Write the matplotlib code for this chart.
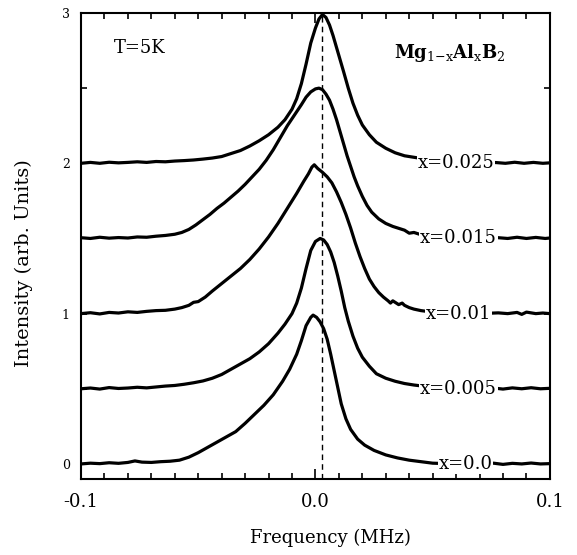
import numpy as np
import matplotlib
matplotlib.use("Agg")
import matplotlib.pyplot as plt
import matplotlib.ticker as ticker

# Spectra (already offset by 0.5 per sample)
freq_x0 = [-0.1, -0.096, -0.092, -0.088, -0.084, -0.080, -0.077, -0.074, -0.070,
           -0.066, -0.062, -0.058, -0.054, -0.050, -0.046, -0.042, -0.038, -0.034,
           -0.030, -0.026, -0.022, -0.018, -0.014, -0.011, -0.008, -0.006, -0.004,
           -0.002, -0.001, 0.0005, 0.002, 0.0035, 0.005, 0.0065, 0.008, 0.0095,
           0.011, 0.013, 0.015, 0.018, 0.021, 0.025, 0.030, 0.035, 0.040, 0.045,
           0.05, 0.06, 0.07, 0.076, 0.080, 0.084, 0.088, 0.092, 0.096, 0.1]
int_x0 = [0.000, 0.005, 0.002, 0.008, 0.004, 0.010, 0.020, 0.012, 0.010,
          0.015, 0.018, 0.025, 0.045, 0.075, 0.110, 0.145, 0.180, 0.215,
          0.270, 0.330, 0.390, 0.460, 0.550, 0.630, 0.730, 0.820, 0.920,
          0.975, 0.990, 0.975, 0.945, 0.900, 0.830, 0.730, 0.620, 0.510,
          0.400, 0.300, 0.230, 0.165, 0.125, 0.090, 0.060, 0.040, 0.025, 0.015,
          0.005, 0.000, 0.000, 0.005, -0.003, 0.004, 0.000, 0.006, 0.000, 0.002]

freq_x005 = [-0.1, -0.096, -0.092, -0.088, -0.084, -0.080, -0.076, -0.072, -0.068,
             -0.064, -0.060, -0.056, -0.052, -0.048, -0.044, -0.040, -0.036,
             -0.032, -0.028, -0.024, -0.020, -0.016, -0.013, -0.010, -0.008,
             -0.006, -0.004, -0.002, 0.0, 0.002, 0.0035, 0.005, 0.0065, 0.008,
             0.0095, 0.011, 0.0125, 0.014, 0.016, 0.018, 0.020, 0.023, 0.026,
             0.030, 0.034, 0.038, 0.042, 0.05, 0.06, 0.07, 0.076, 0.080, 0.084,
             0.088, 0.092, 0.096, 0.1]
int_x005 = [0.500, 0.505, 0.498, 0.508, 0.502, 0.505, 0.510, 0.506, 0.512,
            0.518, 0.522, 0.530, 0.540, 0.552, 0.570, 0.595, 0.630,
            0.665, 0.700, 0.745, 0.800, 0.870, 0.930, 1.000, 1.070,
            1.170, 1.300, 1.420, 1.480, 1.500, 1.490, 1.460, 1.410, 1.340,
            1.250, 1.150, 1.040, 0.950, 0.850, 0.770, 0.710, 0.650, 0.600,
            0.570, 0.550, 0.535, 0.525, 0.510, 0.505, 0.500, 0.505, 0.498, 0.506,
            0.500, 0.507, 0.500, 0.503]

freq_x01 = [-0.1, -0.096, -0.092, -0.088, -0.084, -0.080, -0.076, -0.072, -0.068,
            -0.064, -0.060, -0.057, -0.054, -0.052, -0.050, -0.047, -0.044, -0.040,
            -0.036, -0.032, -0.028, -0.024, -0.020, -0.016, -0.012, -0.008, -0.005,
            -0.003, -0.0015, -0.0005, 0.001, 0.003, 0.005, 0.007, 0.009, 0.011,
            0.013, 0.015, 0.017, 0.019, 0.021, 0.023, 0.025, 0.027, 0.029, 0.031,
            0.032, 0.033, 0.034, 0.0355, 0.037, 0.038, 0.040, 0.042, 0.045, 0.05,
            0.06, 0.07, 0.078, 0.082, 0.086, 0.088, 0.090, 0.094, 0.097, 0.1]
int_x01 = [1.000, 1.006, 0.998, 1.008, 1.004, 1.012, 1.008, 1.015, 1.020,
           1.022, 1.030, 1.040, 1.055, 1.075, 1.080, 1.110, 1.150, 1.200,
           1.250, 1.300, 1.360, 1.430, 1.510, 1.600, 1.700, 1.800, 1.880,
           1.930, 1.975, 1.990, 1.965, 1.940, 1.910, 1.870, 1.810, 1.740,
           1.660, 1.570, 1.470, 1.380, 1.300, 1.230, 1.180, 1.140, 1.110, 1.085,
           1.070, 1.085, 1.075, 1.060, 1.070, 1.055, 1.040, 1.030, 1.020, 1.010,
           1.005, 1.000, 1.005, 1.000, 1.008, 0.995, 1.010, 1.000, 1.004, 1.000]

freq_x015 = [-0.1, -0.096, -0.092, -0.088, -0.084, -0.080, -0.076, -0.072, -0.068,
             -0.064, -0.060, -0.057, -0.054, -0.051, -0.048, -0.045, -0.042,
             -0.039, -0.036, -0.033, -0.030, -0.027, -0.024, -0.021, -0.018,
             -0.015, -0.012, -0.009, -0.006, -0.004, -0.002, 0.0, 0.0015, 0.003,
             0.0045, 0.006, 0.0075, 0.009, 0.0105, 0.012, 0.0135, 0.015, 0.0165,
             0.018, 0.020, 0.022, 0.024, 0.027, 0.030, 0.033, 0.036, 0.038, 0.040,
             0.042, 0.045, 0.05, 0.06, 0.07, 0.078, 0.082, 0.086, 0.090, 0.094,
             0.098, 0.1]
int_x015 = [1.505, 1.500, 1.508, 1.502, 1.506, 1.503, 1.510, 1.508, 1.515,
            1.520, 1.528, 1.540, 1.560, 1.590, 1.625, 1.660, 1.700,
            1.735, 1.775, 1.815, 1.860, 1.910, 1.960, 2.020, 2.090,
            2.170, 2.250, 2.320, 2.390, 2.440, 2.475, 2.495, 2.500, 2.490,
            2.460, 2.420, 2.360, 2.290, 2.210, 2.130, 2.050, 1.980, 1.910,
            1.850, 1.780, 1.720, 1.675, 1.630, 1.600, 1.580, 1.565, 1.555, 1.535,
            1.540, 1.525, 1.520, 1.510, 1.505, 1.505, 1.500, 1.508, 1.500, 1.507,
            1.500, 1.503]

freq_x025 = [-0.1, -0.096, -0.092, -0.088, -0.084, -0.080, -0.076, -0.072, -0.068,
             -0.064, -0.060, -0.056, -0.052, -0.048, -0.044, -0.040, -0.036,
             -0.032, -0.028, -0.024, -0.020, -0.016, -0.013, -0.010, -0.008,
             -0.006, -0.004, -0.002, 0.0, 0.0015, 0.003, 0.0045, 0.006, 0.0075,
             0.009, 0.0105, 0.012, 0.014, 0.016, 0.018, 0.020, 0.023, 0.026,
             0.030, 0.034, 0.038, 0.042, 0.05, 0.06, 0.07, 0.077, 0.081, 0.085,
             0.089, 0.093, 0.097, 0.1]
int_x025 = [2.000, 2.006, 2.000, 2.007, 2.003, 2.006, 2.010, 2.006, 2.012,
            2.010, 2.015, 2.018, 2.022, 2.028, 2.035, 2.045, 2.065,
            2.085, 2.115, 2.150, 2.190, 2.240, 2.290, 2.360, 2.430,
            2.530, 2.660, 2.800, 2.900, 2.960, 2.990, 2.970, 2.920, 2.850,
            2.770, 2.690, 2.610, 2.500, 2.400, 2.320, 2.255, 2.190, 2.140,
            2.100, 2.070, 2.050, 2.040, 2.020, 2.010, 2.005, 2.005, 2.000, 2.007,
            2.000, 2.006, 2.000, 2.003]

spectra = [(freq_x0, int_x0), (freq_x005, int_x005), (freq_x01, int_x01),
           (freq_x015, int_x015), (freq_x025, int_x025)]
labels = ["x=0.0", "x=0.005", "x=0.01", "x=0.015", "x=0.025"]
label_x = [0.064, 0.061, 0.061, 0.061, 0.060]
label_y = [0.0, 0.5, 1.0, 1.5, 2.0]
line_pos = 0.003

plt.rcParams['font.family'] = 'DejaVu Serif'
plt.rcParams['mathtext.fontset'] = 'dejavuserif'

fig = plt.figure(figsize=(5.77, 5.55), dpi=100)
ax = fig.add_axes([0.1404, 0.137, 0.8126, 0.8396])

for f, s in spectra:
    ax.plot(f, s, color='black', lw=2.3, solid_joinstyle='round',
            solid_capstyle='round', zorder=3)

# reference position
ax.axvline(line_pos, color='black', lw=1.0, ls=(0, (4, 3)), zorder=2)

for lab, lx, ly in zip(labels, label_x, label_y):
    ax.text(lx, ly, lab, fontsize=13, ha='center', va='center', zorder=5,
            bbox=dict(facecolor='white', edgecolor='none', pad=0.5))

ax.text(-0.0748, 2.77, "T=5K", fontsize=13, ha='center', va='center')
ax.text(0.0574, 2.735, r"Mg$_{\mathrm{1{-}x}}$Al$_{\mathrm{x}}$B$_{\mathrm{2}}$",
        fontsize=13, ha='center', va='center', fontweight='bold')

ax.set_xlim(-0.1, 0.1)
ax.set_ylim(-0.1, 3.0)

ax.xaxis.set_major_locator(ticker.FixedLocator([-0.1, 0.0, 0.1]))
ax.xaxis.set_major_formatter(ticker.FormatStrFormatter('%.1f'))
ax.xaxis.set_minor_locator(ticker.MultipleLocator(0.01))
ax.yaxis.set_major_locator(ticker.FixedLocator([0, 1, 2, 3]))
ax.yaxis.set_major_formatter(ticker.FormatStrFormatter('%d'))
ax.yaxis.set_minor_locator(ticker.MultipleLocator(0.5))

ax.tick_params(which='both', direction='in', top=True, right=True, width=1.2)
ax.tick_params(axis='x', which='major', length=7, labelsize=13, pad=10)
ax.tick_params(axis='x', which='minor', length=4)
ax.tick_params(axis='y', which='major', length=4, labelsize=9, pad=8)
ax.tick_params(axis='y', which='minor', length=4)
for sp in ax.spines.values():
    sp.set_linewidth(1.5)

ax.set_xlabel("Frequency (MHz)", fontsize=13)
ax.set_ylabel("Intensity (arb. Units)", fontsize=14)
ax.xaxis.set_label_coords(0.533, -0.107)
ax.yaxis.set_label_coords(-0.102, 0.464)

fig.savefig("out.png", dpi=100)
